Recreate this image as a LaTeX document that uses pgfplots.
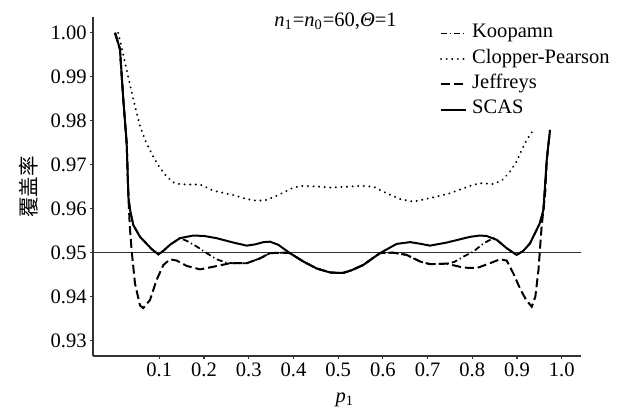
\documentclass[border=0pt]{standalone}
\usepackage{fontspec}
\setmainfont{Liberation Serif}
\newfontfamily\cjk{Noto Sans CJK SC}
\usepackage{pgfplots}
\pgfplotsset{compat=1.18}
\begin{document}
\begin{tikzpicture}
\useasboundingbox (-46.5bp,-31bp) rectangle (263bp,178bp);
\begin{axis}[
  at={(0,0)}, anchor=south west,
  width=244bp, height=169.5bp, scale only axis,
  xmin=-0.0483, xmax=1.0431, ymin=0.9265, ymax=1.0036,
  clip=false,
  axis lines=left,
  axis line style={-, draw=black!80, line width=0.8pt},
  tick align=outside,
  major tick length=1.5bp,
  tick style={draw=black!80, line width=0.6pt},
  xtick={0.1,0.2,0.3,0.4,0.5,0.6,0.7,0.8,0.9,1.0},
  ytick={0.93,0.94,0.95,0.96,0.97,0.98,0.99,1.00},
  /pgf/number format/assume math mode=true,
  xticklabel style={/pgf/number format/fixed, /pgf/number format/fixed zerofill, /pgf/number format/precision=1, anchor=base, yshift=-8.5bp, inner sep=0pt},
  yticklabel style={/pgf/number format/fixed, /pgf/number format/fixed zerofill, /pgf/number format/precision=2, anchor=east, inner sep=0pt, xshift=-1.5bp},
  tick label style={font=\fontsize{10.3}{12}\selectfont},
  xlabel={\textit{p}\textsubscript{1}},
  xlabel style={at={(axis description cs:0.516,-0.1386)}, anchor=base, inner sep=0pt, font=\fontsize{10.3}{12}\selectfont},
  ylabel={\cjk 覆盖率},
  ylabel style={at={(axis description cs:-0.131,0.4985)}, anchor=center, inner sep=0pt, font=\fontsize{10.3}{12}\selectfont},
  legend style={draw=none, fill=none, at={(axis description cs:0.711,0.989)}, anchor=north west, inner sep=0pt, outer sep=0pt, row sep=0pt, column sep=2.5bp, nodes={inner sep=0pt, text height=8.5pt, text depth=4.25pt, font=\fontsize{10.3}{12}\selectfont}},
  legend cell align=left,
  legend image code/.code={\draw[#1] (0bp,0bp) -- (12.5bp,0bp);},
]
\addplot[black!80, line width=0.7pt, forget plot] coordinates {(-0.0483,0.95) (1.0431,0.95)};

% Koopman
\addplot[black, line width=0.9pt, dash pattern=on 3pt off 1.5pt on 0.6pt off 1.5pt] coordinates {
(0.001,1.000) (0.012,0.9963) (0.0195,0.9848) (0.027,0.9749) (0.031,0.9625) (0.035,0.9595)
(0.0418,0.9563) (0.0568,0.9536) (0.070,0.9522) (0.083,0.9508) (0.098,0.9496) (0.110,0.9505)
(0.124,0.9518) (0.146,0.9533) (0.161,0.9527) (0.1836,0.9514) (0.206,0.9499) (0.228,0.9485)
(0.2507,0.9477) (0.2655,0.9476) (0.2955,0.9476) (0.325,0.9487) (0.3476,0.9499) (0.377,0.9500)
(0.392,0.9499) (0.422,0.9480) (0.452,0.9464) (0.4818,0.9455) (0.5,0.9454) (0.5115,0.9454)
(0.530,0.9460) (0.556,0.9472) (0.5936,0.9499) (0.623,0.9500) (0.653,0.9495) (0.683,0.9480)
(0.705,0.9474) (0.743,0.9475) (0.760,0.9479) (0.78,0.9491) (0.802,0.9502) (0.8247,0.9521)
(0.847,0.9533) (0.855,0.9529) (0.877,0.9510) (0.899,0.9495) (0.914,0.9504) (0.929,0.9521)
(0.951,0.9567) (0.959,0.9597) (0.9665,0.9711) (0.9738,0.9779)};
\addlegendentry{Koopamn}

% Clopper-Pearson
\addplot[black, line width=1.1pt, line cap=round, dash pattern=on 0.01pt off 2.8pt] coordinates {
(0.008,1.000) (0.025,0.9925) (0.042,0.9848) (0.057,0.9787) (0.070,0.9752) (0.0866,0.9718)
(0.100,0.9695) (0.1165,0.9673) (0.131,0.9660) (0.145,0.9656) (0.161,0.9655) (0.191,0.9655)
(0.2208,0.9641) (0.2655,0.9631) (0.2955,0.9622) (0.318,0.9618) (0.340,0.9620) (0.370,0.9633)
(0.3997,0.9648) (0.422,0.9652) (0.459,0.9650) (0.482,0.9648) (0.520,0.9650) (0.549,0.9652)
(0.579,0.9650) (0.609,0.9635) (0.638,0.9622) (0.668,0.9616) (0.705,0.9624) (0.750,0.9635)
(0.795,0.9652) (0.817,0.9658) (0.847,0.9656) (0.866,0.9664) (0.884,0.9684) (0.899,0.9707)
(0.907,0.9726) (0.922,0.9757) (0.9365,0.9779)};
\addlegendentry{Clopper-Pearson}

% Jeffreys
\addplot[black, line width=1pt, dash pattern=on 4.5pt off 2pt] coordinates {
(0.001,1.000) (0.012,0.9963) (0.0195,0.9848) (0.027,0.9749) (0.031,0.9625) (0.034,0.9560)
(0.038,0.9506) (0.0456,0.9430) (0.0568,0.9380) (0.064,0.9374) (0.079,0.9392) (0.094,0.9438)
(0.109,0.9472) (0.124,0.9485) (0.139,0.9482) (0.161,0.9470) (0.191,0.9462) (0.2208,0.9468)
(0.258,0.9476) (0.2955,0.9476) (0.325,0.9487) (0.3476,0.9499) (0.377,0.9500) (0.392,0.9499)
(0.422,0.9480) (0.452,0.9464) (0.4818,0.9455) (0.5,0.9454) (0.5115,0.9454) (0.530,0.9460)
(0.556,0.9472) (0.5936,0.9499) (0.623,0.9500) (0.653,0.9495) (0.683,0.9480) (0.705,0.9474)
(0.743,0.9475) (0.78,0.9466) (0.81,0.9465) (0.8396,0.9476) (0.862,0.9485) (0.877,0.9482)
(0.8917,0.9453) (0.907,0.9418) (0.920,0.9393) (0.933,0.9377) (0.941,0.9400) (0.948,0.9461)
(0.955,0.9559) (0.963,0.9635) (0.9665,0.9711) (0.9738,0.9779)};
\addlegendentry{Jeffreys}

% SCAS
\addplot[black, line width=1pt] coordinates {
(0.001,1.000) (0.012,0.9963) (0.0195,0.9848) (0.027,0.9749) (0.031,0.9625) (0.035,0.9595)
(0.0418,0.9563) (0.0568,0.9536) (0.070,0.9522) (0.083,0.9508) (0.098,0.9496) (0.110,0.9505)
(0.124,0.9518) (0.146,0.9533) (0.176,0.9539) (0.200,0.9538) (0.228,0.9533) (0.2655,0.9523)
(0.2955,0.9516) (0.315,0.9519) (0.333,0.9524) (0.3476,0.9525) (0.366,0.9518) (0.392,0.9499)
(0.422,0.9480) (0.452,0.9464) (0.4818,0.9455) (0.5,0.9454) (0.5115,0.9454) (0.530,0.9460)
(0.556,0.9472) (0.5936,0.9499) (0.631,0.9520) (0.661,0.9524) (0.685,0.9520) (0.7054,0.9516)
(0.7428,0.9523) (0.795,0.9536) (0.817,0.9539) (0.832,0.9538) (0.855,0.9529) (0.877,0.9510)
(0.899,0.9495) (0.914,0.9504) (0.929,0.9521) (0.951,0.9567) (0.959,0.9597) (0.9665,0.9711)
(0.9738,0.9779)};
\addlegendentry{SCAS}

\node[anchor=base, inner sep=0pt, font=\fontsize{10.3}{12}\selectfont] at (axis description cs:0.497,0.9705) {\textit{n}\textsubscript{1}=\textit{n}\textsubscript{0}=60,\textit{Θ}=1};
\end{axis}
\end{tikzpicture}
\end{document}
